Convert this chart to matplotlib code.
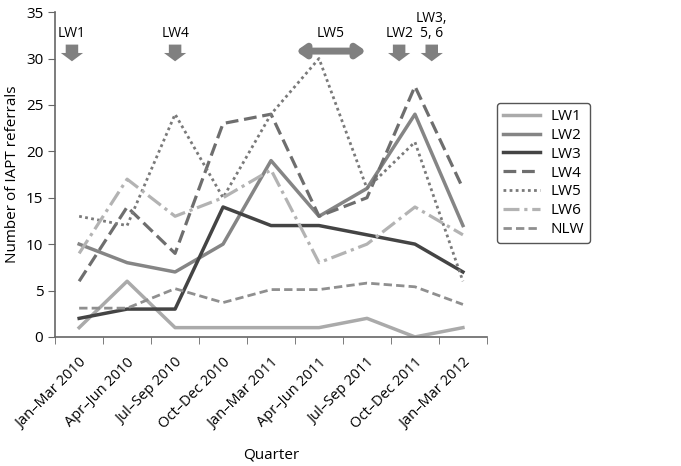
import numpy as np
import matplotlib
matplotlib.use("Agg")
import matplotlib.pyplot as plt

plt.rcParams["font.family"] = ["Open Sans", "DejaVu Sans"]

QUARTERS = [
    "Jan\u2013Mar 2010", "Apr\u2013Jun 2010", "Jul\u2013Sep 2010", "Oct\u2013Dec 2010",
    "Jan\u2013Mar 2011", "Apr\u2013Jun 2011", "Jul\u2013Sep 2011", "Oct\u2013Dec 2011",
    "Jan\u2013Mar 2012",
]

LW1 = [1, 6, 1, 1, 1, 1, 2, 0, 1]
LW2 = [10, 8, 7, 10, 19, 13, 16, 24, 12]
LW3 = [2, 3, 3, 14, 12, 12, 11, 10, 7]
LW4 = [6, 14, 9, 23, 24, 13, 15, 27, 16]
LW5 = [13, 12, 24, 15, 24, 30, 16, 21, 6]
LW6 = [9, 17, 13, 15, 18, 8, 10, 14, 11]
NLW = [3.1, 3.1, 5.2, 3.7, 5.1, 5.1, 5.8, 5.4, 3.5]

# launch markers: label, x position (in quarter index units)
MARKERS = [("LW1", -0.15), ("LW4", 2.0), ("LW2", 6.67), ("LW3,\n5, 6", 7.35)]
LW5_SPAN = (4.52, 5.98)

SERIES = [
    ("LW1", LW1, dict(color="#aaaaaa", lw=2.5, ls="-")),
    ("LW2", LW2, dict(color="#858585", lw=2.5, ls="-")),
    ("LW3", LW3, dict(color="#444444", lw=2.5, ls="-")),
    ("LW4", LW4, dict(color="#6e6e6e", lw=2.3, ls=(0, (4, 1.8)))),
    ("LW5", LW5, dict(color="#7a7a7a", lw=2.0, ls=(0, (1, 1.2)))),
    ("LW6", LW6, dict(color="#b3b3b3", lw=2.3, ls=(0, (5, 1.5, 1, 1.5)))),
    ("NLW", NLW, dict(color="#8f8f8f", lw=2.0, ls=(0, (3, 1.5)))),
]

fig = plt.figure(figsize=(6.81, 4.66), dpi=100)
ax = fig.add_axes([0.081, 0.277, 0.634, 0.697])

x = np.arange(len(QUARTERS))
for name, vals, style in SERIES:
    ax.plot(x, vals, label=name, **style)

ax.set_xlim(-0.5, len(QUARTERS) - 0.5)
ax.set_ylim(0, 35)
ax.set_yticks(range(0, 36, 5))
ax.set_xticks(x)
ax.set_xticklabels(QUARTERS, rotation=45, ha="right", rotation_mode="anchor")
ax.set_xticks(np.arange(-0.5, len(QUARTERS), 1.0), minor=True)
ax.tick_params(axis="x", which="major", length=0, labelsize=10.5, pad=13)
ax.tick_params(axis="x", which="minor", length=5, color="#666666")
ax.tick_params(axis="y", length=5, color="#666666", labelsize=11)

for s in ["top", "right"]:
    ax.spines[s].set_visible(False)
for s in ["left", "bottom"]:
    ax.spines[s].set_color("#666666")
    ax.spines[s].set_linewidth(1.2)

ax.set_ylabel("Number of IAPT referrals", fontsize=11)
ax.set_xlabel("Quarter", fontsize=11, labelpad=11)

# arrows
arrow_col = "#808080"
for label, xp in MARKERS:
    ax.annotate("", xy=(xp, 29.7), xytext=(xp, 31.5),
                arrowprops=dict(arrowstyle="simple,head_length=0.6,head_width=1.6,tail_width=0.9",
                                color=arrow_col, lw=0, shrinkA=0, shrinkB=0, mutation_scale=10))
    ax.text(xp, 32.3, label, ha="center", va="baseline", fontsize=10, linespacing=1.0)

ax.annotate("", xy=(LW5_SPAN[0], 30.8), xytext=(LW5_SPAN[1], 30.8),
            arrowprops=dict(arrowstyle="<|-|>,head_length=0.5,head_width=0.35",
                            color=arrow_col, lw=5, shrinkA=0, shrinkB=0))
ax.text(sum(LW5_SPAN) / 2, 32.3, "LW5", ha="center", va="baseline", fontsize=10)

leg = ax.legend(loc="upper left", bbox_to_anchor=(0.730, 0.779), bbox_transform=fig.transFigure,
                borderaxespad=0, fontsize=11, handlelength=2.4, labelspacing=0.25,
                handletextpad=0.7, fancybox=True, edgecolor="#555555", framealpha=1)
leg.get_frame().set_linewidth(1.0)

fig.savefig("out.png", dpi=100)
